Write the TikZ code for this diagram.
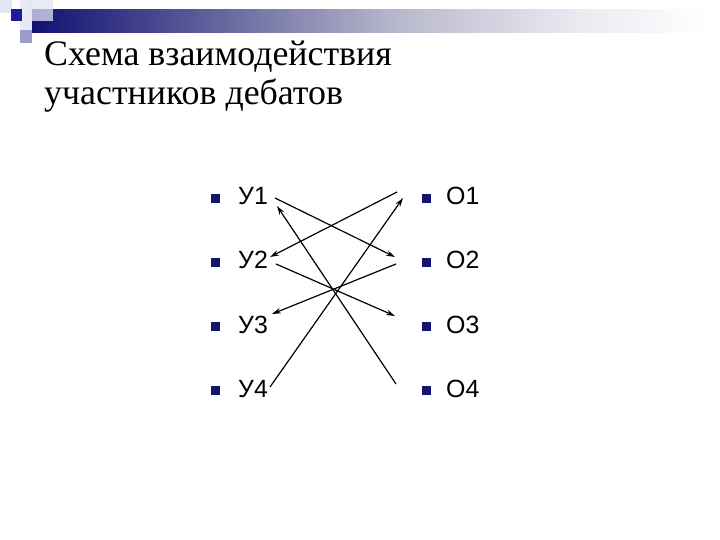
\documentclass[tikz,border=0pt]{standalone}
\usepackage{fontspec}
\setmainfont{Liberation Serif}
\newfontfamily\itemfont{Liberation Sans}
\usepackage{xcolor}
\usetikzlibrary{arrows.meta}
\definecolor{custom_navy}{HTML}{14146E}
\definecolor{custom_pale}{HTML}{E4E4F2}
\definecolor{custom_mid}{HTML}{9C9CCC}
\definecolor{custom_blue}{HTML}{1C1C96}
\pgfdeclarehorizontalshading{titlebar}{100bp}{%
  rgb(0bp)=(0.07,0.07,0.45);
  rgb(25bp)=(0.07,0.07,0.45);
  rgb(35bp)=(0.30,0.30,0.57);
  rgb(52bp)=(0.72,0.72,0.80);
  rgb(65bp)=(0.91,0.91,0.94);
  rgb(75bp)=(1,1,1);
  rgb(100bp)=(1,1,1)}

\begin{document}
\begin{tikzpicture}[x=1bp, y=-1bp,
    item/.style={font=\itemfont\fontsize{25}{25}\selectfont, anchor=base west, inner sep=0pt},
    bullet/.style={fill=custom_navy, minimum size=9bp, inner sep=0pt, anchor=south west},
    link/.style={->, >={Stealth[length=9bp, width=5.5bp]}, line width=1.2bp, black}]
      \useasboundingbox (0,0) rectangle (720,540);

      % header decoration
      \shade[shading=titlebar] (32,10) rectangle (705,33);
      \fill[custom_pale] (0,0) rectangle (12,13);
      \fill[custom_pale, opacity=0.8] (20,0) rectangle (32,30);
      \fill[custom_pale, opacity=0.75] (30,0) rectangle (53,21);
      \fill[custom_blue] (11,9) rectangle (22,21);
      \fill[custom_mid] (20,30) rectangle (32,43);

      % title
      \node[anchor=base west, inner sep=0pt, align=left,
            font=\fontsize{36}{40}\selectfont] (title) at (44,105)
            {Схема взаимодействия\\участников дебатов};

      % left column
      \node[bullet] (bu1) at (211,203) {};
      \node[bullet] (bu2) at (211,267) {};
      \node[bullet] (bu3) at (211,331) {};
      \node[bullet] (bu4) at (211,395) {};
      \node[item] (u1) at (238,205) {У1};
      \node[item] (u2) at (238,269) {У2};
      \node[item] (u3) at (238,333) {У3};
      \node[item] (u4) at (238,397) {У4};

      % right column
      \node[bullet] (bo1) at (422,203) {};
      \node[bullet] (bo2) at (422,267) {};
      \node[bullet] (bo3) at (422,331) {};
      \node[bullet] (bo4) at (422,395) {};
      \node[item] (o1) at (446,205) {O1};
      \node[item] (o2) at (446,269) {O2};
      \node[item] (o3) at (446,333) {O3};
      \node[item] (o4) at (446,397) {O4};

      % arrow ends
      \coordinate (u1a) at (275,198);
      \coordinate (u1b) at (277,206);
      \coordinate (u2a) at (270,257);
      \coordinate (u2b) at (276,264);
      \coordinate (u3a) at (272,314);
      \coordinate (u4a) at (270,387);
      \coordinate (o1a) at (397,192);
      \coordinate (o1b) at (403,198);
      \coordinate (o2a) at (395,257);
      \coordinate (o2b) at (396,264);
      \coordinate (o3a) at (395,316);
      \coordinate (o4a) at (396,384);

      \draw[link] (u1a) -- (o2a);
      \draw[link] (o1a) -- (u2a);
      \draw[link] (u4a) -- (o1b);
      \draw[link] (o4a) -- (u1b);
      \draw[link] (u2b) -- (o3a);
      \draw[link] (o2b) -- (u3a);

    \end{tikzpicture}
\end{document}
